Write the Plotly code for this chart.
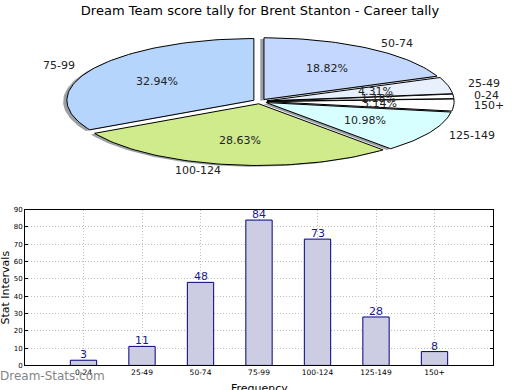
import math
import plotly.graph_objects as go

# ---------------- data ----------------
categories = ["0-24", "25-49", "50-74", "75-99", "100-124", "125-149", "150+"]
counts = [3, 11, 48, 84, 73, 28, 8]
pie_order = ["75-99", "100-124", "125-149", "150+", "0-24", "25-49", "50-74"]
pie_colors = {
    "75-99": "#b5d5fd",
    "100-124": "#cfeb8b",
    "125-149": "#d8ffff",
    "150+": "#ffffff",
    "0-24": "#ffffff",
    "25-49": "#e8f0fe",
    "50-74": "#c4d8fd",
}
title_text = "Dream Team score tally for Brent Stanton - Career tally"
y_ticks = [0, 10, 20, 30, 40, 50, 60, 70, 80, 90]

W, H = 520, 390
FONT = "DejaVu Sans"

# pie geometry (unit circle in its own cartesian axes, squashed to an ellipse)
A_PX, B_PX = 187.0, 63.0      # pixel size of one unit along x and y
CX_PX, CY_PX = 260.0, 99.5    # centre of the pie in pixels
PIE_TOP, PIE_BOT = 0.0, 195.0  # pixel extent of the pie axes
EXPLODE = 0.038
SHADOW = (-0.02, -0.02)

fig = go.Figure()

total = sum(counts)
value_of = dict(zip(categories, counts))

def wedge(t1, t2, ox, oy):
    n = max(4, int(abs(t2 - t1) / 1.5))
    xs, ys = [ox], [oy]
    for i in range(n + 1):
        t = math.radians(t1 + (t2 - t1) * i / n)
        xs.append(ox + math.cos(t))
        ys.append(oy + math.sin(t))
    xs.append(ox)
    ys.append(oy)
    return xs, ys

slices = []
start = 90.0
for lab in pie_order:
    v = value_of[lab]
    span = 360.0 * v / total
    t1, t2 = start, start + span
    tm = math.radians((t1 + t2) / 2)
    ox, oy = EXPLODE * math.cos(tm), EXPLODE * math.sin(tm)
    slices.append((lab, v, t1, t2, tm, ox, oy))
    start = t2

# shadows
for lab, v, t1, t2, tm, ox, oy in slices:
    xs, ys = wedge(t1, t2, ox + SHADOW[0], oy + SHADOW[1])
    fig.add_trace(go.Scatter(x=xs, y=ys, xaxis="x2", yaxis="y2", mode="lines",
                             fill="toself", fillcolor="rgba(55,65,75,0.5)",
                             line=dict(width=0), hoverinfo="skip", showlegend=False))
# wedges
for lab, v, t1, t2, tm, ox, oy in slices:
    xs, ys = wedge(t1, t2, ox, oy)
    fig.add_trace(go.Scatter(x=xs, y=ys, xaxis="x2", yaxis="y2", mode="lines",
                             fill="toself", fillcolor=pie_colors[lab],
                             line=dict(color="black", width=1),
                             name=lab, showlegend=False))

annotations = []
for lab, v, t1, t2, tm, ox, oy in slices:
    c, s = math.cos(tm), math.sin(tm)
    # category label
    annotations.append(dict(
        x=ox + 1.1 * c, y=oy + 1.1 * s, xref="x2", yref="y2",
        text=lab, showarrow=False, xanchor="left" if c > 0 else "right",
        yanchor="middle", font=dict(family=FONT, size=11, color="#222222")))
    # percentage label
    annotations.append(dict(
        x=ox + 0.6 * c, y=oy + 0.6 * s, xref="x2", yref="y2",
        text=f"{v / total * 100:.2f}%", showarrow=False, xanchor="center",
        yanchor="middle", font=dict(family=FONT, size=11, color="#222222")))

# ---------------- bar chart ----------------
fig.add_trace(go.Bar(
    x=categories, y=counts, width=0.45,
    marker=dict(color="#ccccE2", line=dict(color="#000080", width=1)),
    showlegend=False, xaxis="x", yaxis="y"))

for cat, v in zip(categories, counts):
    annotations.append(dict(
        x=cat, y=v, xref="x", yref="y", text=str(v), showarrow=False,
        xanchor="center", yanchor="bottom", yshift=-3,
        font=dict(family=FONT, size=11, color="#1a1a8c")))

annotations += [
    dict(text="Stat Intervals", x=5.5 / W, y=1 - 290.0 / H, xref="paper", yref="paper",
         textangle=-90, showarrow=False, xanchor="center", yanchor="middle",
         font=dict(family=FONT, size=11, color="black")),
    dict(text="Frequency", x=259.0 / W, y=1 - 384.0 / H, xref="paper", yref="paper",
         showarrow=False, xanchor="center", yanchor="top",
         font=dict(family=FONT, size=11, color="black")),
    dict(text="Dream-Stats.com", x=0.0, y=1 - 379.5 / H, xref="paper", yref="paper",
         showarrow=False, xanchor="left", yanchor="middle", xshift=-2,
         font=dict(family=FONT, size=12, color="#858585")),
]

# axes ranges for the pie (pixel -> unit conversion)
x2_range = [-CX_PX / A_PX, (W - CX_PX) / A_PX]
y2_range = [-(PIE_BOT - CY_PX) / B_PX, (CY_PX - PIE_TOP) / B_PX]

grid = dict(showgrid=True, gridcolor="#bdbdbd", griddash="1px,2px", gridwidth=1)

fig.update_layout(
    width=W, height=H,
    margin=dict(l=0, r=0, t=0, b=0),
    paper_bgcolor="white", plot_bgcolor="rgba(0,0,0,0)",
    title=dict(text=title_text, x=0.5, xanchor="center", y=1 - 10.0 / H,
               yanchor="middle", yref="container",
               font=dict(family=FONT, size=13, color="black")),
    xaxis=dict(domain=[25.0 / W, 493.0 / W], range=[-1, 7], type="category",
               showline=True, linecolor="black", linewidth=1, mirror=True,
               ticks="", tickfont=dict(family=FONT, size=7.5, color="black"),
               zeroline=False, anchor="y", **grid),
    yaxis=dict(domain=[1 - 369.0 / H, 1 - 210.0 / H], range=[0, 90],
               tickvals=y_ticks, showline=True, linecolor="black", linewidth=1,
               mirror="ticks", ticks="inside", ticklen=3, tickcolor="black",
               tickfont=dict(family=FONT, size=7, color="black"),
               zeroline=False, anchor="x", **grid),
    xaxis2=dict(domain=[0, 1], range=x2_range, visible=False, anchor="y2"),
    yaxis2=dict(domain=[1 - PIE_BOT / H, 1 - PIE_TOP / H], range=y2_range,
                visible=False, anchor="x2"),
    annotations=annotations,
)

fig.write_html("out.html",
               config={"displayModeBar": False},
               post_script="document.body.style.margin='0';document.body.style.padding='0';")
